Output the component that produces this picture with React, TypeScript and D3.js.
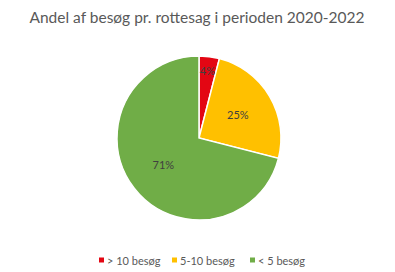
import React from "react";
import * as d3 from "d3";

const categories = ["> 10 besøg", "5-10 besøg", "< 5 besøg"];
const values = [4, 25, 71];
const colors = ["#E30613", "#FFC000", "#70AD47"];
const title = "Andel af besøg pr. rottesag i perioden 2020-2022";

export default function App() {
  const W = 395, H = 272;
  const cx = 199, cy = 138, r = 82;
  const pie = d3.pie<number>().sort(null).value((d) => d)(values);
  const arc = d3.arc<d3.PieArcDatum<number>>().innerRadius(0).outerRadius(r);
  const labelArc = d3.arc<d3.PieArcDatum<number>>().innerRadius(r * 0.55).outerRadius(r * 0.55);
  const font = "Lato, 'Open Sans', sans-serif";
  const legendX = [99, 172, 250];
  return (
    <svg width={W} height={H} style={{ position: "absolute", left: 0, top: 0, background: "#fff" }}>
      <text x={197} y={23} textAnchor="middle" fontFamily={font} fontSize={15.5} fill="#595959">{title}</text>
      <g transform={`translate(${cx},${cy})`}>
        {pie.map((p, i) => (
          <path key={i} d={arc(p) || ""} fill={colors[i]} stroke="#fff" strokeWidth={1.5} />
        ))}
        {pie.map((p, i) => {
          const c = i === 0 ? d3.arc<d3.PieArcDatum<number>>().innerRadius(r * 0.82).outerRadius(r * 0.82).centroid(p) : labelArc.centroid(p);
          return (
            <text key={i} x={c[0]} y={c[1]} dy="0.35em" textAnchor="middle" fontFamily={font} fontSize={11} fill="#404040">
              {values[i]}%
            </text>
          );
        })}
      </g>
      {categories.map((c, i) => (
        <g key={i} transform={`translate(${legendX[i]},261)`}>
          <rect x={0} y={-3.5} width={5} height={5} fill={colors[i]} />
          <text x={8} y={0} dy="0.35em" fontFamily={font} fontSize={11} fill="#595959">{c}</text>
        </g>
      ))}
    </svg>
  );
}
